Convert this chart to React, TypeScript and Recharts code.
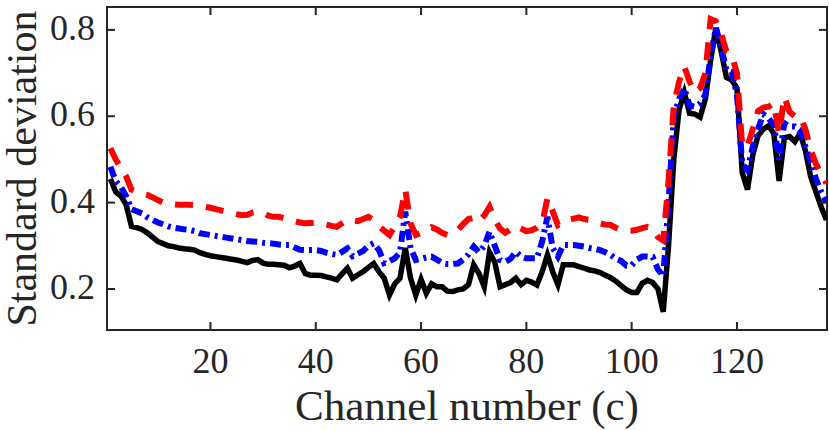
import React from "react";
import { LineChart, Line, XAxis, YAxis, ReferenceArea } from "recharts";

// channel index (x)
const channels = Array.from({ length: 137 }, (_, i) => i + 1);

// solid black series
const blackStd = [
  0.455, 0.425, 0.415, 0.395, 0.345, 0.342, 0.338, 0.33, 0.32, 0.31,
  0.305, 0.3, 0.298, 0.295, 0.293, 0.292, 0.29, 0.284, 0.28, 0.277,
  0.275, 0.273, 0.271, 0.269, 0.267, 0.264, 0.261, 0.266, 0.268, 0.26,
  0.257, 0.257, 0.256, 0.255, 0.249, 0.253, 0.259, 0.236, 0.232, 0.232,
  0.231, 0.228, 0.225, 0.221, 0.235, 0.248, 0.225, 0.233, 0.24, 0.25,
  0.259, 0.24, 0.225, 0.186, 0.212, 0.225, 0.295, 0.225, 0.186, 0.222,
  0.19, 0.212, 0.205, 0.205, 0.195, 0.194, 0.198, 0.2, 0.21, 0.256,
  0.236, 0.205, 0.285, 0.262, 0.205, 0.21, 0.215, 0.225, 0.21, 0.22,
  0.216, 0.209, 0.24, 0.279, 0.24, 0.21, 0.256, 0.256, 0.256, 0.252,
  0.248, 0.244, 0.242, 0.238, 0.232, 0.226, 0.218, 0.208, 0.198, 0.192,
  0.192, 0.213, 0.22, 0.215, 0.2, 0.147, 0.3, 0.5, 0.615, 0.655,
  0.607, 0.605, 0.598, 0.64, 0.73, 0.805, 0.75, 0.69, 0.684, 0.665,
  0.47, 0.43, 0.51, 0.555, 0.57, 0.578, 0.56, 0.45, 0.55, 0.553,
  0.541, 0.561, 0.52, 0.46, 0.425, 0.39, 0.36,
];

// blue dash-dot series
const blueStd = [
  0.483, 0.45, 0.436, 0.415, 0.385, 0.38, 0.375, 0.366, 0.36, 0.354,
  0.35, 0.345, 0.342, 0.34, 0.338, 0.337, 0.334, 0.329, 0.327, 0.325,
  0.323, 0.321, 0.319, 0.317, 0.315, 0.313, 0.311, 0.31, 0.309, 0.307,
  0.306, 0.305, 0.303, 0.302, 0.302, 0.296, 0.291, 0.29, 0.29, 0.29,
  0.288, 0.284, 0.281, 0.279, 0.286, 0.294, 0.276, 0.282, 0.288, 0.3,
  0.306, 0.29, 0.26, 0.265, 0.271, 0.285, 0.379, 0.295, 0.267, 0.27,
  0.273, 0.275, 0.268, 0.26, 0.258, 0.258, 0.259, 0.268, 0.28, 0.298,
  0.285, 0.3, 0.333, 0.3, 0.267, 0.263, 0.27, 0.286, 0.275, 0.271,
  0.271, 0.271, 0.31, 0.367, 0.295, 0.275, 0.302, 0.302, 0.302, 0.3,
  0.298, 0.295, 0.293, 0.29, 0.285, 0.279, 0.27, 0.265, 0.254, 0.255,
  0.268, 0.275, 0.275, 0.274, 0.245, 0.23, 0.4, 0.6, 0.64, 0.665,
  0.625, 0.622, 0.63, 0.65, 0.74, 0.805, 0.76, 0.707, 0.703, 0.65,
  0.49, 0.475, 0.53, 0.57, 0.605, 0.595, 0.58, 0.5, 0.584, 0.576,
  0.576, 0.565, 0.53, 0.495, 0.455, 0.425, 0.4,
];

// red dashed series
const redStd = [
  0.526, 0.5, 0.48, 0.46, 0.43, 0.425, 0.421, 0.418, 0.412, 0.406,
  0.4, 0.398, 0.396, 0.395, 0.395, 0.395, 0.394, 0.392, 0.39, 0.388,
  0.385, 0.382, 0.379, 0.376, 0.373, 0.371, 0.372, 0.377, 0.379, 0.376,
  0.37, 0.367, 0.367, 0.364, 0.36, 0.357, 0.354, 0.352, 0.353, 0.354,
  0.352, 0.349, 0.346, 0.344, 0.352, 0.36, 0.359, 0.357, 0.362, 0.367,
  0.36, 0.345, 0.335, 0.325, 0.345, 0.367, 0.43, 0.352, 0.325, 0.33,
  0.335, 0.343, 0.338, 0.33, 0.325, 0.33, 0.337, 0.35, 0.362, 0.365,
  0.356, 0.37, 0.39, 0.36, 0.34, 0.33, 0.338, 0.346, 0.34, 0.334,
  0.336, 0.342, 0.352, 0.41, 0.38, 0.348, 0.355, 0.36, 0.363, 0.366,
  0.362, 0.36, 0.356, 0.352, 0.349, 0.348, 0.342, 0.337, 0.335, 0.335,
  0.337, 0.341, 0.344, 0.34, 0.32, 0.312, 0.45, 0.625, 0.68, 0.715,
  0.68, 0.655, 0.665, 0.7, 0.825, 0.82, 0.79, 0.75, 0.742, 0.7,
  0.53, 0.53, 0.57, 0.612, 0.62, 0.622, 0.63, 0.56, 0.645, 0.61,
  0.6, 0.6, 0.57, 0.522, 0.49, 0.465, 0.445,
];

const xTicks = [20, 40, 60, 80, 100, 120];
const yTicks = [0.2, 0.4, 0.6, 0.8];

const data = channels.map((c, i) => ({
  c,
  black: blackStd[i],
  blue: blueStd[i],
  red: redStd[i],
}));

const INK = "#262626";
const FONT = "'Liberation Serif', 'Times New Roman', serif";
const TICK_LEN = 8;
const W = 829;
const H = 430;
const MARGIN = { top: 7, right: 2, bottom: 0, left: 0 };
const PLOT_TOP = MARGIN.top;
const PLOT_RIGHT = W - MARGIN.right;

// bottom tick + label, with its mirrored twin on the top edge
const BottomTick = ({ x, y, payload }: any) => (
  <g>
    <line x1={x} y1={y} x2={x} y2={y - TICK_LEN} stroke={INK} strokeWidth={2} />
    <line x1={x} y1={PLOT_TOP} x2={x} y2={PLOT_TOP + TICK_LEN} stroke={INK} strokeWidth={2} />
    <text x={x} y={y + 43} textAnchor="middle" fontFamily={FONT} fontSize={36} fill={INK}>
      {payload.value}
    </text>
  </g>
);

// left tick + label, with its mirrored twin on the right edge
const LeftTick = ({ x, y, payload }: any) => (
  <g>
    <line x1={x} y1={y} x2={x + TICK_LEN} y2={y} stroke={INK} strokeWidth={2} />
    <line x1={PLOT_RIGHT} y1={y} x2={PLOT_RIGHT - TICK_LEN} y2={y} stroke={INK} strokeWidth={2} />
    <text x={x - 12} y={y + 10} textAnchor="end" fontFamily={FONT} fontSize={36} fill={INK}>
      {payload.value}
    </text>
  </g>
);

const XLabel = ({ viewBox }: any) => (
  <text
    x={viewBox.x + viewBox.width / 2}
    y={viewBox.y + 90}
    textAnchor="middle"
    fontFamily={FONT}
    fontSize={43}
    fill={INK}
  >
    Channel number (c)
  </text>
);

const YLabel = ({ viewBox }: any) => {
  const cx = viewBox.x + 36;
  const cy = viewBox.y + viewBox.height / 2;
  return (
    <text
      x={cx}
      y={cy}
      transform={`rotate(-90, ${cx}, ${cy})`}
      textAnchor="middle"
      fontFamily={FONT}
      fontSize={42}
      fill={INK}
    >
      Standard deviation
    </text>
  );
};

export default function App() {
  const xDomain: [number, number] = [0.35, 137.1];
  const yDomain: [number, number] = [0.105, 0.853];
  return (
    <div style={{ position: "absolute", left: 0, top: 0, width: W, height: H, background: "#fff" }}>
      <LineChart width={W} height={H} data={data} margin={MARGIN}>
        <XAxis
          dataKey="c"
          type="number"
          domain={xDomain}
          ticks={xTicks}
          allowDataOverflow
          height={100}
          tickSize={0}
          tickMargin={0}
          tickLine={false}
          axisLine={{ stroke: INK, strokeWidth: 2 }}
          tick={BottomTick}
          label={{ content: XLabel }}
        />
        <YAxis
          type="number"
          domain={yDomain}
          ticks={yTicks}
          allowDataOverflow
          width={107}
          tickSize={0}
          tickMargin={0}
          tickLine={false}
          axisLine={{ stroke: INK, strokeWidth: 2 }}
          tick={LeftTick}
          label={{ content: YLabel }}
        />
        <Line
          dataKey="black"
          type="linear"
          stroke="#000000"
          strokeWidth={5.5}
          dot={false}
          isAnimationActive={false}
        />
        <Line
          dataKey="blue"
          type="linear"
          stroke="#0000ff"
          strokeWidth={6}
          strokeDasharray="11 5 3 5"
          dot={false}
          isAnimationActive={false}
        />
        <Line
          dataKey="red"
          type="linear"
          stroke="#ff0000"
          strokeWidth={6}
          strokeDasharray="18 13"
          dot={false}
          isAnimationActive={false}
        />
        {/* box around the plot area */}
        <ReferenceArea
          x1={xDomain[0]}
          x2={xDomain[1]}
          y1={yDomain[0]}
          y2={yDomain[1]}
          fill="none"
          stroke={INK}
          strokeWidth={2}
          ifOverflow="visible"
        />
      </LineChart>
    </div>
  );
}
